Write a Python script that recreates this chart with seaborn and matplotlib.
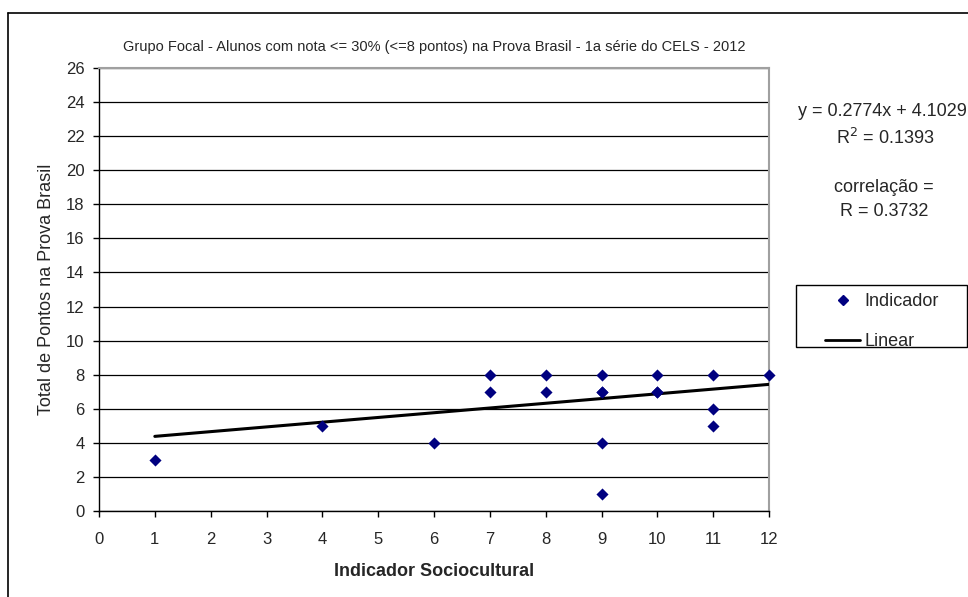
import numpy as np
import pandas as pd
import matplotlib
matplotlib.use('Agg')
import matplotlib.pyplot as plt
import seaborn as sns
from matplotlib.lines import Line2D
from matplotlib.patches import Rectangle

# data
indicador = [1, 4, 6, 7, 7, 8, 8, 9, 9, 9, 9, 9, 10, 10, 10, 11, 11, 11, 12]
pontos = [3, 5, 4, 8, 7, 8, 7, 8, 7, 7, 4, 1, 8, 7, 7, 8, 6, 5, 8]
slope = 0.2774
intercept = 4.1029
r2 = 0.1393
r = 0.3732

title = 'Grupo Focal - Alunos com nota <= 30% (<=8 pontos) na Prova Brasil - 1a série do CELS - 2012'
x_ticks = list(range(0, 13))
y_ticks = list(range(0, 27, 2))

sns.set_theme(style='white')
plt.rcParams['font.family'] = ['Liberation Sans', 'DejaVu Sans']

W, H = 968, 597
fig = plt.figure(figsize=(W / 100, H / 100), dpi=100)
ax = fig.add_axes([99 / W, 1 - 511 / H, (769 - 99) / W, (511 - 68) / H])

df = pd.DataFrame({'x': indicador, 'y': pontos})
x_fit = np.array([min(indicador), max(indicador)])
fit = pd.DataFrame({'x': x_fit, 'y': slope * x_fit + intercept})

sns.lineplot(data=fit, x='x', y='y', ax=ax, color='black', linewidth=2.2, zorder=3)
sns.scatterplot(data=df, x='x', y='y', ax=ax, marker='D', s=38, color='#000080',
                edgecolor='#000080', linewidth=0, zorder=4, clip_on=False)

ax.set_xlim(0, 12)
ax.set_ylim(0, 26)
ax.set_xticks(x_ticks)
ax.set_yticks(y_ticks)
ax.yaxis.grid(True, color='black', linewidth=0.9)
ax.set_axisbelow(True)
for side in ['top', 'right']:
    ax.spines[side].set_color('#a0a0a0')
    ax.spines[side].set_linewidth(1.5)
for side in ['left', 'bottom']:
    ax.spines[side].set_color('black')
    ax.spines[side].set_linewidth(1.0)
ax.tick_params(axis='both', which='major', direction='out', length=4, width=1,
               color='black', labelsize=12, bottom=True, left=True)
ax.tick_params(axis='x', pad=11)
ax.tick_params(axis='y', length=4.5, pad=6)
ax.set_xlabel('Indicador Sociocultural', fontsize=13, fontweight='bold', labelpad=12)
ax.set_ylabel('Total de Pontos na Prova Brasil', fontsize=13, labelpad=8)
ax.set_title(title, fontsize=10.5, pad=12)

# equation / correlation annotations
fig.text(798 / W, 1 - 112 / H, f'y = {slope}x + {intercept}', fontsize=13, va='center', ha='left')
fig.text(885 / W, 1 - 138 / H, f'R$^2$ = {r2}', fontsize=13, va='center', ha='center')
fig.text(884 / W, 1 - 187 / H, 'correlação =', fontsize=13, va='center', ha='center')
fig.text(884 / W, 1 - 211 / H, f'R = {r}', fontsize=13, va='center', ha='center')

# legend: box drawn separately, entries placed inside it
fig.add_artist(Rectangle((796 / W, 1 - 347 / H), (967 - 796) / W, (347 - 285) / H,
                         transform=fig.transFigure, fill=False, edgecolor='black',
                         linewidth=1.0))
handles = [Line2D([], [], marker='D', linestyle='none', color='#000080', markersize=5),
           Line2D([], [], color='black', linewidth=2)]
fig.legend(handles, ['Indicador', 'Linear'], loc='upper left',
           bbox_to_anchor=(825 / W, 1 - 293 / H), fontsize=13, frameon=False,
           borderpad=0, handlelength=1.95, handletextpad=0.25, labelspacing=1.3,
           borderaxespad=0)

# outer chart frame
fig.add_artist(Line2D([8 / W, 8 / W], [0, 1 - 13 / H], color='black', linewidth=1.2))
fig.add_artist(Line2D([8 / W, 1], [1 - 13 / H, 1 - 13 / H], color='black', linewidth=1.2))

fig.savefig('out.png', dpi=100, facecolor='white')
